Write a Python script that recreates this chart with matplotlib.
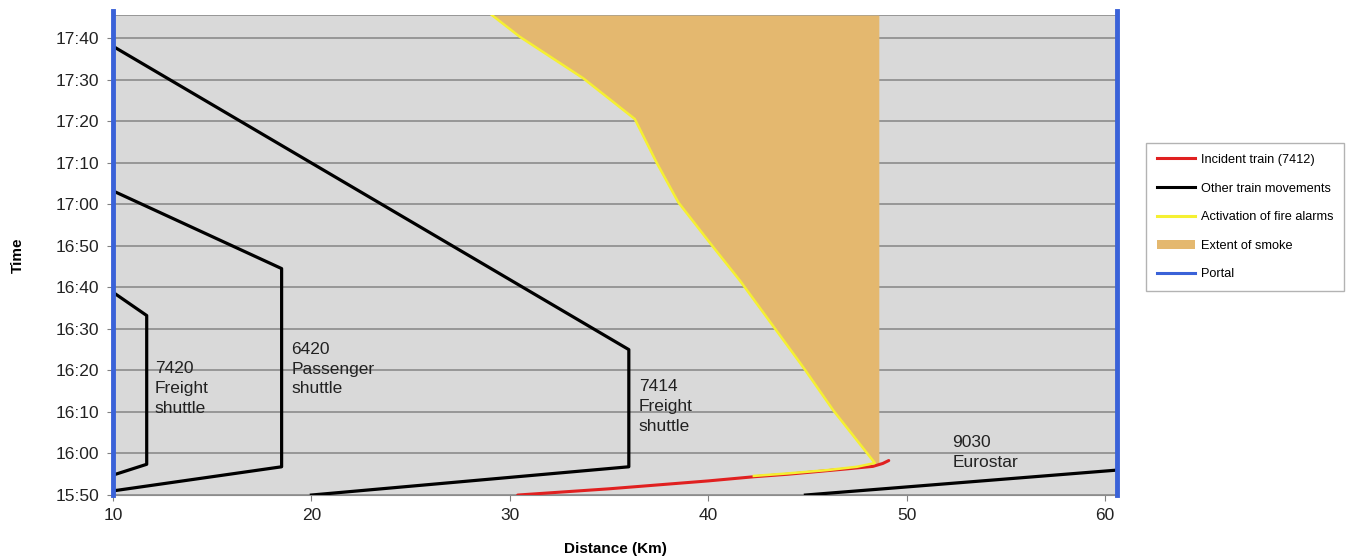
import matplotlib
matplotlib.use("Agg")
import matplotlib.pyplot as plt
from matplotlib.lines import Line2D
from matplotlib.patches import Patch

plt.rcParams['font.family'] = ['Liberation Sans', 'DejaVu Sans']

# time values are minutes after 15:50
t0 = 15 * 60 + 50

# other train movements
x7420 = [10, 11.7, 11.7, 10]
t7420 = [4.8, 7.4, 43.2, 48.8]
x6420 = [10, 18.5, 18.5, 10]
t6420 = [1.0, 6.8, 54.5, 73.2]
x7414 = [20, 36, 36, 10]
t7414 = [0, 6.8, 35, 108]
x9030 = [44.9, 60.6]
t9030 = [0, 6.0]

# incident train 7412
x7412 = [30.4, 35, 40, 42.3, 44, 47, 48.3, 48.8, 49.1]
t7412 = [0, 1.5, 3.4, 4.4, 5.0, 6.3, 6.9, 7.6, 8.3]

# activation of fire alarms
xalarm = [42.3, 44, 46, 47.5, 48.4, 46.3, 44.9, 44.6, 41.6, 40.2, 38.5, 37.4, 36.3, 33.7, 30.5, 29.1]
talarm = [4.6, 5.2, 6.0, 6.8, 7.7, 20.4, 30.0, 32.0, 51.6, 60.0, 70.4, 80.0, 90.5, 100.3, 110.3, 115.5]

# extent of smoke: between alarm front and this distance
smoke_edge = 48.6

portals = [10, 60.6]

ytick_labels = ["15:50", "16:00", "16:10", "16:20", "16:30", "16:40",
                "16:50", "17:00", "17:10", "17:20", "17:30", "17:40"]
xticks = [10, 20, 30, 40, 50, 60]


def mins(lbl):
    h, m = lbl.split(":")
    return int(h) * 60 + int(m) - t0


fig = plt.figure(figsize=(13.53, 5.6), dpi=100)
ax = fig.add_axes([0.0835, 0.116, 0.742, 0.857])
ax.set_facecolor('#d9d9d9')

# smoke region (from the alarm front going up)
sx = xalarm[4:]
st = talarm[4:]
ax.fill_betweenx(st, sx, smoke_edge, color='#e4b86f', lw=0, zorder=2)

ax.plot(xalarm, talarm, color='#f5f032', lw=1.8, zorder=4)
ax.plot(x7412, t7412, color='#e02020', lw=2.2, zorder=3, solid_capstyle='round')

linew = 2.3
for xs, ts in [(x7420, t7420), (x6420, t6420), (x7414, t7414), (x9030, t9030)]:
    ax.plot(xs, ts, color='k', lw=linew, zorder=5)

for p in portals:
    ax.plot([p, p], [0, 116.5], color='#3a62d8', lw=3.5, zorder=6, clip_on=False)

tkw = dict(fontsize=12.5, va='top', linespacing=1.4, color='#222222', zorder=7)
ax.text(12.1, 32.2, "7420\nFreight\nshuttle", **tkw)
ax.text(19.0, 36.9, "6420\nPassenger\nshuttle", **tkw)
ax.text(36.5, 27.9, "7414\nFreight\nshuttle", **tkw)
ax.text(52.3, 14.4, "9030\nEurostar", **tkw)

ax.set_xlim(10, 60.6)
ax.set_ylim(0, 115.5)
ax.set_yticks([mins(l) for l in ytick_labels])
ax.set_yticklabels(ytick_labels)
ax.set_xticks(xticks)
ax.tick_params(labelsize=12.5, length=4, color='#808080', labelcolor='#222222')
ax.tick_params(axis='y', pad=6)
ax.tick_params(axis='x', pad=5)
ax.yaxis.grid(True, color='#8c8c8c', lw=1.2)
ax.set_axisbelow(True)
for s in ['left', 'right', 'top']:
    ax.spines[s].set_visible(False)
ax.spines['bottom'].set_color('#8c8c8c')
ax.axhline(115.5, color='#8c8c8c', lw=1.2, zorder=1)

ax.set_xlabel("Distance (Km)", fontsize=11, fontweight='bold', labelpad=14)
ax.set_ylabel("Time", fontsize=11, fontweight='bold', labelpad=22)

handles = [
    Line2D([], [], color='#e02020', lw=2.2),
    Line2D([], [], color='k', lw=2.2),
    Line2D([], [], color='#f5f032', lw=2.2),
    Patch(facecolor='#e4b86f', edgecolor='none'),
    Line2D([], [], color='#3a62d8', lw=2.2),
]
labels = ["Incident train (7412)", "Other train movements", "Activation of fire alarms",
          "Extent of smoke", "Portal"]
leg = fig.legend(handles, labels, loc='upper left', bbox_to_anchor=(0.8425, 0.756),
                 fontsize=9.2, frameon=True, fancybox=False, edgecolor='#a0a0a0',
                 handlelength=3.0, labelspacing=1.3, borderpad=0.85, handletextpad=0.4)
leg.get_frame().set_linewidth(1.0)

plt.savefig('out.png', dpi=100)
